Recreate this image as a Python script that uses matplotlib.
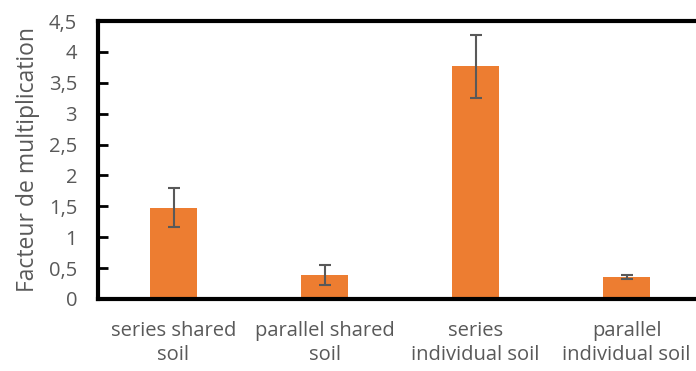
import matplotlib
matplotlib.use("Agg")
import matplotlib.pyplot as plt
from matplotlib.ticker import FuncFormatter

categories = ["series shared\nsoil", "parallel shared\nsoil", "series\nindividual soil", "parallel\nindividual soil"]
values = [1.48, 0.39, 3.77, 0.36]
errors = [0.32, 0.165, 0.51, 0.03]
yticks = [0, 0.5, 1, 1.5, 2, 2.5, 3, 3.5, 4, 4.5]

plt.rcParams['font.family'] = ['Open Sans', 'DejaVu Sans']
gray = '#595959'

fig = plt.figure(figsize=(6.96, 3.71), dpi=100)
ax = fig.add_axes([98/696, 72/371, 604/696, 278/371])

x = range(len(categories))
ax.bar(x, values, width=0.31, color='#ED7D31', zorder=2)
ax.errorbar(x, values, yerr=errors, fmt='none', ecolor=gray, elinewidth=1.5,
            capsize=4.3, capthick=1.5, zorder=3)

ax.set_xlim(-0.5, 3.5)
ax.set_ylim(0, 4.5)
ax.set_yticks(yticks)
ax.yaxis.set_major_formatter(FuncFormatter(lambda v, p: ('%g' % v).replace('.', ',')))
ax.set_xticks(list(x))
ax.set_xticklabels(categories)

for s in ['left', 'bottom', 'top', 'right']:
    ax.spines[s].set_linewidth(3)
    ax.spines[s].set_color('black')

ax.tick_params(axis='y', direction='in', length=7, width=2, colors='black',
               labelcolor=gray, labelsize=14.5, pad=15)
ax.tick_params(axis='x', length=0, labelcolor=gray, labelsize=14.5, pad=16)
for lbl in ax.get_xticklabels():
    lbl.set_linespacing(1.25)

ax.set_ylabel("Facteur de multiplication", color=gray, fontsize=16.5, labelpad=6)

fig.savefig("out.png", dpi=100)
